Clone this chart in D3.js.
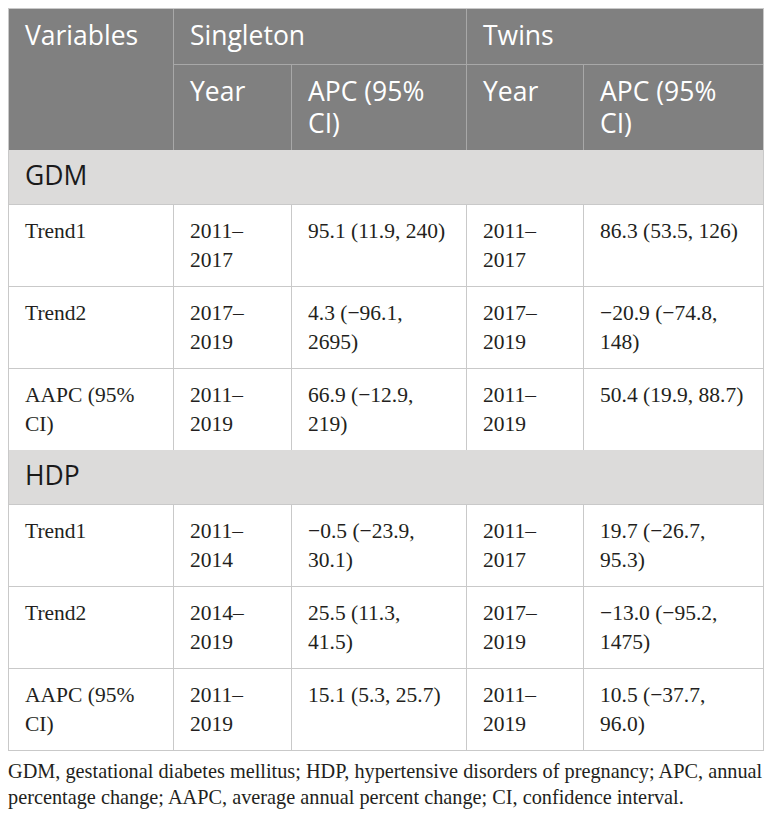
<!DOCTYPE html>
<html>
<head>
<meta charset="utf-8">
<script src="https://cdn.jsdelivr.net/npm/d3@7"></script>
<style>
  body { margin: 0; background: #fff; }
</style>
</head>
<body>
<svg class="tbl"></svg>
<script>
// table content
const groups      = ["GDM", "HDP"];
const rowLabels   = ["Trend1", "Trend2", "AAPC (95%\nCI)"];
const singleYears = [["2011–\n2017", "2017–\n2019", "2011–\n2019"],
                     ["2011–\n2014", "2014–\n2019", "2011–\n2019"]];
const singleApc   = [["95.1 (11.9, 240)", "4.3 (−96.1,\n2695)", "66.9 (−12.9,\n219)"],
                     ["−0.5 (−23.9,\n30.1)", "25.5 (11.3,\n41.5)", "15.1 (5.3, 25.7)"]];
const twinYears   = [["2011–\n2017", "2017–\n2019", "2011–\n2019"],
                     ["2011–\n2017", "2017–\n2019", "2011–\n2019"]];
const twinApc     = [["86.3 (53.5, 126)", "−20.9 (−74.8,\n148)", "50.4 (19.9, 88.7)"],
                     ["19.7 (−26.7,\n95.3)", "−13.0 (−95.2,\n1475)", "10.5 (−37.7,\n96.0)"]];
const topHeaders  = ["Variables", "Singleton", "Twins"];
const subHeaders  = ["Year", "APC (95%\nCI)", "Year", "APC (95%\nCI)"];
const footnote    = ["GDM, gestational diabetes mellitus; HDP, hypertensive disorders of pregnancy; APC, annual",
                     "percentage change; AAPC, average annual percent change; CI, confidence interval."];

let width  = 772;
let height = 816;
let svg    = d3.select(".tbl").attr("width", width).attr("height", height);

let left = 8, tTop = 8;
let colW  = [165, 118, 175, 117, 181];
let colX  = [left].concat(Array.from(d3.cumsum(colW), d => left + d));
let right = colX[colX.length - 1];

let hdr1 = 56, hdr2 = 86, bandH = 54, rowH = 82;
let headBottom = tTop + hdr1 + hdr2;

let sans  = "'Open Sans', sans-serif";
let serif = "'Liberation Serif', 'Times New Roman', serif";
let headBg = "#808080", headLine = "#a8a8a8", bandBg = "#dcdbda", grid = "#c9c9c9", ink = "#231f20";
let headSize = "26.5px", bodySize = "21.5px";

// rows in drawing order
let rows = [];
let y = headBottom;
groups.forEach(function(g, gi) {
  rows.push({ type: "band", label: g, y: y, h: bandH });
  y += bandH;
  rowLabels.forEach(function(r, ri) {
    rows.push({ type: "row", y: y, h: rowH,
      cells: [r, singleYears[gi][ri], singleApc[gi][ri], twinYears[gi][ri], twinApc[gi][ri]] });
    y += rowH;
  });
});
let tableBottom = y;

function multiline(sel, str, x, y0, lh) {
  str.split("\n").forEach(function(line, i) {
    sel.append("tspan").attr("x", x).attr("y", y0 + i * lh).text(line);
  });
}

// header background
svg.append("rect")
.attr("x", left).attr("y", tTop)
.attr("width", right - left).attr("height", hdr1 + hdr2)
.attr("fill", headBg);

let hg = svg.append("g").attr("stroke", headLine).attr("stroke-width", 1).attr("shape-rendering", "crispEdges");
hg.append("line").attr("x1", colX[1]).attr("x2", right).attr("y1", tTop + hdr1 + 0.5).attr("y2", tTop + hdr1 + 0.5);
hg.append("line").attr("x1", colX[1] + 0.5).attr("x2", colX[1] + 0.5).attr("y1", tTop).attr("y2", headBottom);
hg.append("line").attr("x1", colX[3] + 0.5).attr("x2", colX[3] + 0.5).attr("y1", tTop).attr("y2", headBottom);
hg.append("line").attr("x1", colX[2] + 0.5).attr("x2", colX[2] + 0.5).attr("y1", tTop + hdr1).attr("y2", headBottom);
hg.append("line").attr("x1", colX[4] + 0.5).attr("x2", colX[4] + 0.5).attr("y1", tTop + hdr1).attr("y2", headBottom);

let topX = [colX[0], colX[1], colX[3]];
svg.selectAll(".th1").data(topHeaders).enter()
.append("text")
.attr("class", "th1")
.attr("x", (d, i) => topX[i] + 17)
.attr("y", tTop + 37)
.attr("fill", "#fff")
.style("font-family", sans).style("font-size", headSize)
.text(d => d);

svg.selectAll(".th2").data(subHeaders).enter()
.append("text")
.attr("class", "th2")
.attr("fill", "#fff")
.style("font-family", sans).style("font-size", headSize)
.each(function(d, i) { multiline(d3.select(this), d, colX[i + 1] + 17, tTop + hdr1 + 37, 32); });

// body
rows.forEach(function(r) {
  if (r.type === "band") {
    svg.append("rect")
    .attr("x", left).attr("y", r.y).attr("width", right - left).attr("height", r.h)
    .attr("fill", bandBg);
    svg.append("text")
    .attr("x", left + 17).attr("y", r.y + 35)
    .attr("fill", "#1a1a1a")
    .style("font-family", sans).style("font-size", headSize)
    .text(r.label);
  } else {
    let g = svg.append("g");
    g.selectAll("text").data(r.cells).enter()
    .append("text")
    .attr("fill", ink)
    .style("font-family", serif).style("font-size", bodySize)
    .each(function(d, i) { multiline(d3.select(this), d, colX[i] + 17, r.y + 34, 29); });
    g.selectAll("line").data(colX.slice(1, -1)).enter()
    .append("line")
    .attr("x1", d => d + 0.5).attr("x2", d => d + 0.5)
    .attr("y1", r.y).attr("y2", r.y + r.h)
    .attr("stroke", grid).attr("shape-rendering", "crispEdges");
  }
  svg.append("line")
  .attr("x1", left).attr("x2", right)
  .attr("y1", r.y + r.h + 0.5).attr("y2", r.y + r.h + 0.5)
  .attr("stroke", grid).attr("shape-rendering", "crispEdges");
});

// outer border
svg.append("rect")
.attr("x", left + 0.5).attr("y", tTop + 0.5)
.attr("width", right - left - 1).attr("height", tableBottom - tTop)
.attr("fill", "none")
.attr("stroke", grid).attr("shape-rendering", "crispEdges");

svg.selectAll(".foot").data(footnote).enter()
.append("text")
.attr("class", "foot")
.attr("x", left)
.attr("y", (d, i) => tableBottom + 28 + i * 26)
.attr("fill", ink)
.style("font-family", serif).style("font-size", "20.3px")
.text(d => d);
</script>
</body>
</html>
